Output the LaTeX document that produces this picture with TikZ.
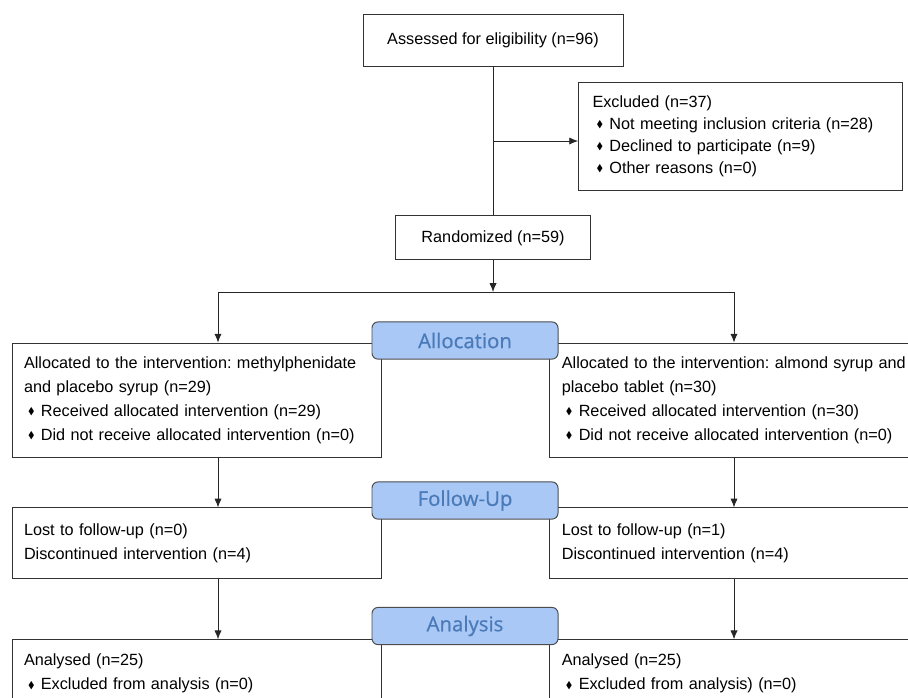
\documentclass[tikz,border=0pt]{standalone}
\usepackage{amssymb}
\usepackage{fontspec}
\setmainfont{Liberation Sans}
\newfontfamily\stagefont[FakeBold=0.7]{Open Sans}
\usetikzlibrary{positioning}
\usetikzlibrary{arrows.meta}
\definecolor{stagefill}{HTML}{A9C8F6}
\definecolor{stagetext}{HTML}{4A7AB8}
\newcommand{\itm}{\hspace*{0.1cm}\raisebox{0.15ex}{\scalebox{0.6}{$\blacklozenge$}}\hspace{0.16cm}}
\tikzset{
  box/.style={draw=black!80, line width=0.6pt, inner xsep=0.3cm,
    font=\frenchspacing\fontsize{11.55}{17}\selectfont},
  stage/.style={draw=black!70, line width=0.7pt, fill=stagefill,
    rounded corners=0.15cm, minimum width=4.65cm, minimum height=0.93cm,
    text=stagetext, font=\stagefont\fontsize{14.5}{16}\selectfont},
  flow/.style={draw=black!85, line width=0.6pt},
  arr/.style={flow, -{Latex[length=0.22cm,width=0.18cm]}}
}

\begin{document}
\begin{tikzpicture}
\useasboundingbox (0,0) rectangle (22.7,-17.425);
% Enrollment
\node[box, minimum width=6.5cm, minimum height=1.3cm] (assessed) at (12.325,-1.0)
    {Assessed for eligibility (n=96)};
\node[box,
    text width=7.4cm,
    inner xsep=0.35cm,
    minimum height=2.7cm,
    align=left,
    font=\frenchspacing\fontsize{11.55}{15.6}\selectfont
] (excluded) at (18.5125,-3.4)
    {Excluded (n=37)\\
     \itm Not meeting inclusion criteria (n=28)\\
     \itm Declined to participate (n=9)\\
     \itm Other reasons (n=0)};
\node[box,
    minimum width=4.875cm,
    minimum height=1.1cm,
    below=3.725cm of assessed
] (randomized) {Randomized (n=59)};

% Allocation
\node[box,
    text width=8.625cm,
    minimum height=2.85cm,
    align=left
] (leftalloc) at (4.9125,-10)
    {Allocated to the intervention: methylphenidate\\
     and placebo syrup (n=29)\\
     \itm Received allocated intervention (n=29)\\
     \itm Did not receive allocated intervention (n=0)};
\node[box,
    text width=9.4cm,
    minimum height=2.85cm,
    align=left,
    right=4.2cm of leftalloc
] (rightalloc)
    {Allocated to the intervention: almond syrup and\\
     placebo tablet (n=30)\\
     \itm Received allocated intervention (n=30)\\
     \itm Did not receive allocated intervention (n=0)};

% Follow-up
\node[box,
    text width=8.625cm,
    minimum height=1.775cm,
    align=left,
    below=1.25cm of leftalloc
] (leftfollow)
    {Lost to follow-up (n=0)\\
     Discontinued intervention (n=4)};
\node[box,
    text width=9.4cm,
    minimum height=1.775cm,
    align=left,
    below=1.25cm of rightalloc
] (rightfollow)
    {Lost to follow-up (n=1)\\
     Discontinued intervention (n=4)};

% Analysis
\node[box,
    text width=8.625cm,
    minimum height=1.7cm,
    align=left,
    below=1.5cm of leftfollow
] (leftana)
    {Analysed (n=25)\\
     \itm Excluded from analysis (n=0)};
\node[box,
    text width=9.4cm,
    minimum height=1.7cm,
    align=left,
    below=1.5cm of rightfollow
] (rightana)
    {Analysed (n=25)\\
     \itm Excluded from analysis) (n=0)};

% Stage labels
\node[stage] (allocation) at (11.625,-8.5125) {Allocation};
\node[stage] (followup) at (11.625,-12.5125) {Follow-Up};
\node[stage] (analysis) at (11.625,-15.65) {Analysis};

% Connectors
\coordinate (branch) at (12.325,-3.525);
\coordinate (split) at (12.325,-7.3);
\coordinate (ldrop) at (5.45,-7.3);
\coordinate (rdrop) at (18.35,-7.3);

\draw[flow] (assessed.south) -- (assessed.south |- randomized.north);
\draw[arr] (branch) -- (branch -| excluded.west);
\draw[arr] (randomized.south) -- (split);
\draw[flow] (ldrop) -- (rdrop);
\draw[arr] (ldrop) -- (ldrop |- leftalloc.north);
\draw[arr] (rdrop) -- (rdrop |- rightalloc.north);
\draw[arr] (ldrop |- leftalloc.south) -- (ldrop |- leftfollow.north);
\draw[arr] (rdrop |- rightalloc.south) -- (rdrop |- rightfollow.north);
\draw[arr] (ldrop |- leftfollow.south) -- (ldrop |- leftana.north);
\draw[arr] (rdrop |- rightfollow.south) -- (rdrop |- rightana.north);

\end{tikzpicture}
\end{document}
